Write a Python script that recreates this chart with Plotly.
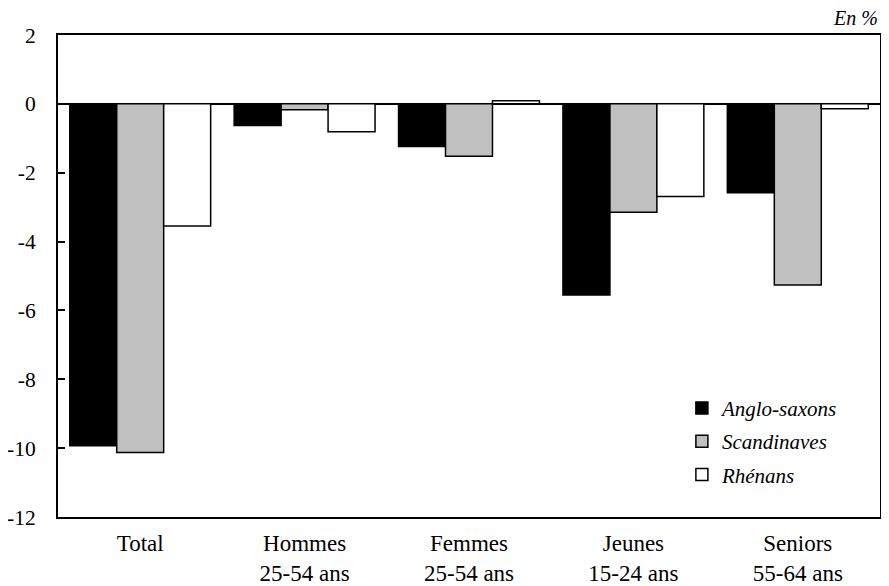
import plotly.graph_objects as go

categories = ["Total", "Hommes<br>25-54 ans", "Femmes<br>25-54 ans", "Jeunes<br>15-24 ans", "Seniors<br>55-64 ans"]
anglo = [-9.93, -0.63, -1.24, -5.55, -2.58]
scand = [-10.13, -0.17, -1.52, -3.15, -5.26]
rhen = [-3.55, -0.81, 0.09, -2.69, -0.14]
series = [("Anglo-saxons", anglo, "#000000"), ("Scandinaves", scand, "#c0c0c0"), ("Rhénans", rhen, "#ffffff")]
yticks = [2, 0, -2, -4, -6, -8, -10, -12]

fig = go.Figure()
for i, (name, vals, col) in enumerate(series):
    fig.add_trace(go.Bar(
        x=categories, y=vals, name=name, legendgroup=name,
        marker=dict(color=col, line=dict(color="#000000", width=1.5)),
    ))

serif = "Liberation Serif"
fig.update_layout(
    width=881, height=578,
    margin=dict(l=50, r=9, t=27, b=69, autoexpand=False),
    plot_bgcolor="white", paper_bgcolor="white",
    barmode="group", bargap=0.143, bargroupgap=0,
    font=dict(family=serif, size=22, color="black"),
    showlegend=True,
    legend=dict(x=0.759, y=0.268, xanchor="left", yanchor="top",
                font=dict(family=serif, size=21, style="italic"),
                bgcolor="rgba(0,0,0,0)", traceorder="grouped", tracegroupgap=3,
                itemwidth=30),
    xaxis=dict(showline=True, linecolor="black", linewidth=2, mirror=True,
               ticks="", showgrid=False, ticklabelstandoff=4, automargin=False,
               tickfont=dict(family=serif, size=23)),
    yaxis=dict(range=[-12, 2], tickvals=yticks, ticktext=[str(v) for v in yticks],
               showline=True, linecolor="black", linewidth=2, mirror=True,
               ticks="inside", ticklen=7, tickwidth=2, tickcolor="black",
               ticklabelstandoff=16, automargin=False,
               showgrid=False, zeroline=True, zerolinecolor="black", zerolinewidth=2,
               tickfont=dict(family=serif, size=21.5)),
    annotations=[dict(text="<i>En %</i>", xref="paper", yref="paper", x=1, y=1,
                      xanchor="right", yanchor="bottom", yshift=4, showarrow=False,
                      font=dict(family=serif, size=20))],
)

fig.write_html("out.html")
